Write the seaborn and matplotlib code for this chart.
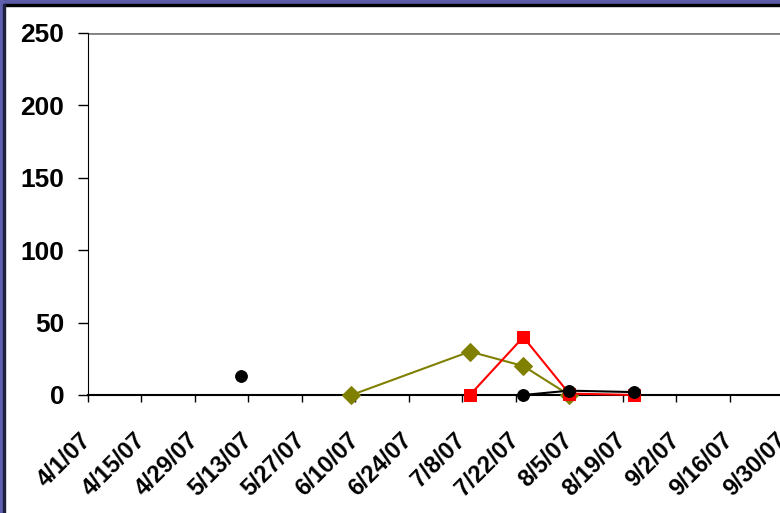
import seaborn as sns
import pandas as pd
import matplotlib.pyplot as plt
from matplotlib.patches import Rectangle

olive_dates = ["2007-06-09", "2007-07-10", "2007-07-24", "2007-08-05"]
olive_vals = [0, 30, 20, 0]
red_dates = ["2007-07-10", "2007-07-24", "2007-08-05", "2007-08-22"]
red_vals = [0, 40, 1, 0]
black_dates = ["2007-07-24", "2007-08-05", "2007-08-22"]
black_vals = [0, 3, 2]
lone_dates = ["2007-05-11"]
lone_vals = [13]
tick_dates = pd.date_range("2007-04-01", "2007-09-30", freq="14D")
y_ticks = [0, 50, 100, 150, 200, 250]

sns.set_style("white")
plt.rcParams['font.family'] = ['Liberation Sans', 'DejaVu Sans']
plt.rcParams['text.color'] = 'black'
plt.rcParams['xtick.color'] = 'black'
plt.rcParams['ytick.color'] = 'black'

fig = plt.figure(figsize=(7.8, 5.13), dpi=100)
ax = fig.add_axes([88/780, 1-395/513, (783-88)/780, (395-33)/513])

olive = pd.DataFrame({"d": pd.to_datetime(olive_dates), "v": olive_vals})
red = pd.DataFrame({"d": pd.to_datetime(red_dates), "v": red_vals})
black = pd.DataFrame({"d": pd.to_datetime(black_dates), "v": black_vals})
lone = pd.DataFrame({"d": pd.to_datetime(lone_dates), "v": lone_vals})

sns.lineplot(data=olive, x="d", y="v", ax=ax, color="#808000", marker="D", markersize=9,
             markeredgecolor="#808000", linewidth=1.5, clip_on=False, zorder=3)
sns.lineplot(data=red, x="d", y="v", ax=ax, color="#ff0000", marker="s", markersize=8.5,
             markeredgecolor="#ff0000", linewidth=1.5, clip_on=False, zorder=4)
sns.lineplot(data=black, x="d", y="v", ax=ax, color="black", marker="o", markersize=8.5,
             markeredgecolor="black", linewidth=1.5, clip_on=False, zorder=5)
sns.scatterplot(data=lone, x="d", y="v", ax=ax, color="black", s=72, edgecolor="black", zorder=5)

ax.set_xlim(tick_dates[0], tick_dates[-1])
ax.set_ylim(0, 250)
ax.set_xticks(tick_dates)
ax.set_xticklabels([f"{d.month}/{d.day}/07" for d in tick_dates], rotation=45, ha="right",
                   va="center", rotation_mode="anchor", fontsize=17, fontweight="bold")
ax.set_yticks(y_ticks)
ax.set_yticklabels([str(v) for v in y_ticks], fontsize=19, fontweight="bold")
ax.tick_params(axis="x", direction="out", length=5, width=1, pad=25, bottom=True)
ax.tick_params(axis="y", direction="out", length=7, width=1, pad=10, left=True)
ax.set_xlabel("")
ax.set_ylabel("")
ax.axhline(250, color="#808080", linewidth=2, zorder=1)
for s in ["top", "right"]:
    ax.spines[s].set_visible(False)
ax.spines["left"].set_color("black")
ax.spines["bottom"].set_color("black")
ax.spines["bottom"].set_linewidth(1.5)

# frame around the slide
fig.patches.append(Rectangle((0, 1-4/513), 1, 4/513, transform=fig.transFigure, color="#5b5ba8", zorder=0))
fig.patches.append(Rectangle((0, 1-6/513), 1, 2/513, transform=fig.transFigure, color="black", zorder=0))
fig.patches.append(Rectangle((0, 0), 3/780, 1, transform=fig.transFigure, color="#6060b0", zorder=0))
fig.patches.append(Rectangle((3/780, 0), 2/780, 1-4/513, transform=fig.transFigure, color="#202040", zorder=0))

fig.savefig("out.png", dpi=100)
